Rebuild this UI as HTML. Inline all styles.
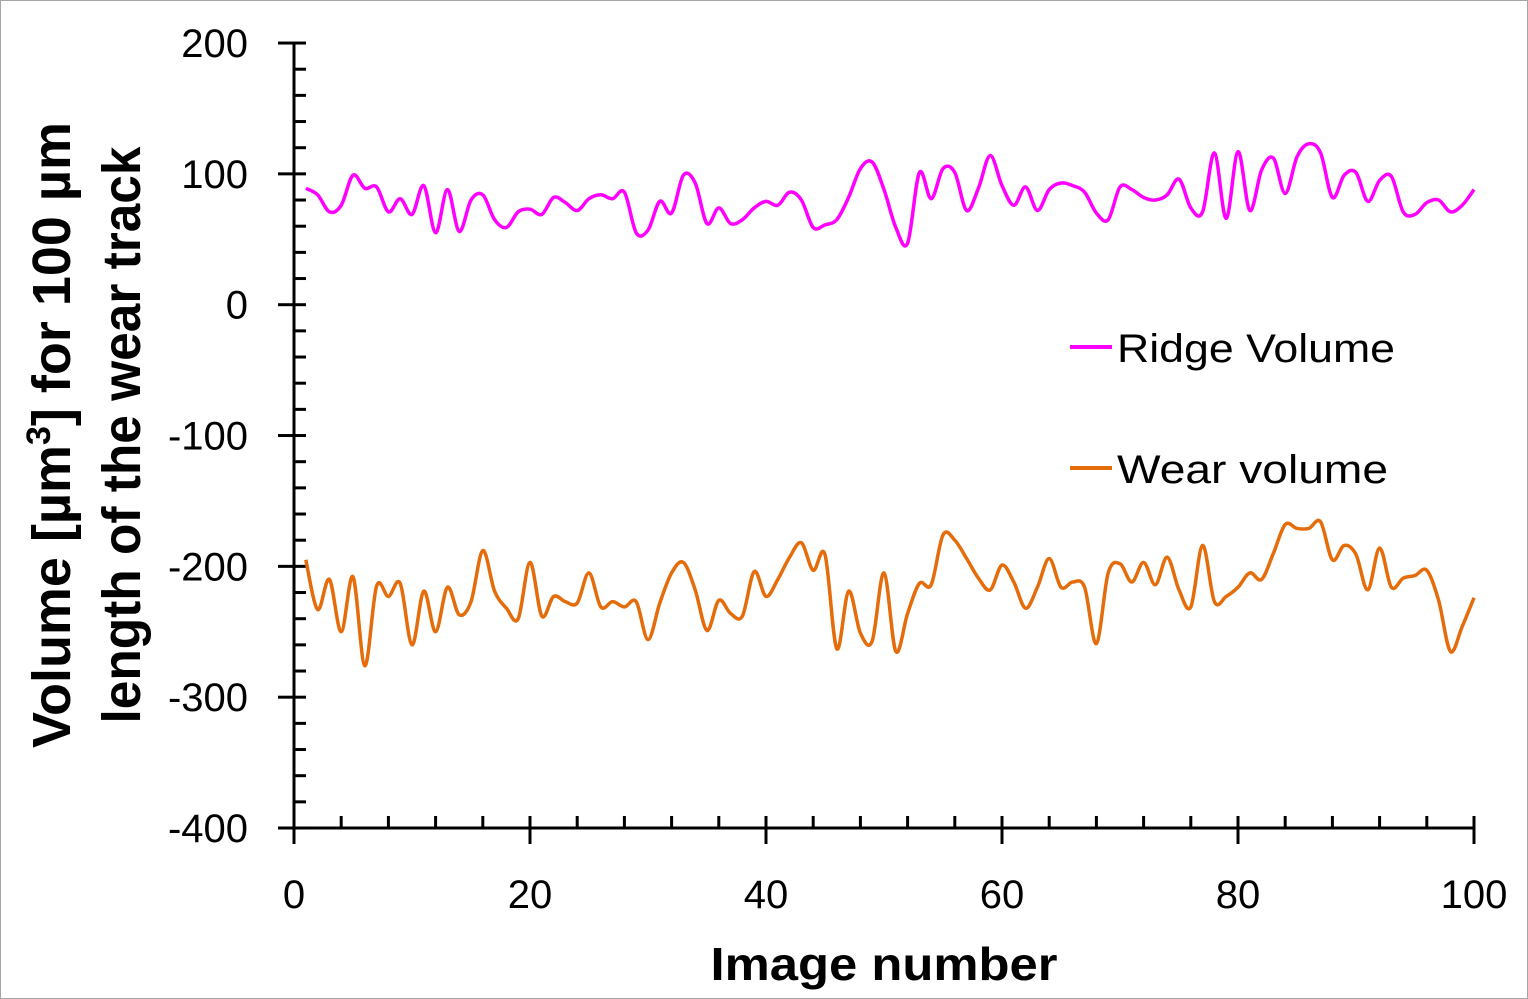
<!DOCTYPE html>
<html><head><meta charset="utf-8"><style>
body{margin:0;background:#fff}
svg{display:block;font-family:"Liberation Sans",sans-serif}
</style></head><body>
<svg width="1528" height="999" viewBox="0 0 1528 999">
<rect x="0.5" y="0.5" width="1527" height="998" fill="#fff" stroke="#a6a6a6"/>
<g id="axes"></g>
<g id="series"></g>
<text x="884" y="980" text-anchor="middle" font-size="46" font-weight="bold" textLength="347" lengthAdjust="spacingAndGlyphs">Image number</text>
<g transform="translate(70,435) rotate(-90)">
<text x="0" y="0" text-anchor="middle" font-size="54" font-weight="bold" textLength="626" lengthAdjust="spacingAndGlyphs">Volume [µm<tspan font-size="34" dy="-20">3</tspan><tspan dy="20">] for 100 µm</tspan></text>
<text x="0" y="70" text-anchor="middle" font-size="54" font-weight="bold" textLength="577" lengthAdjust="spacingAndGlyphs">length of the wear track</text>
</g>
<g>
<line x1="1070" y1="347" x2="1112" y2="347" stroke="#ff00ff" stroke-width="4"/>
<text x="1117" y="362" font-size="40" textLength="278" lengthAdjust="spacingAndGlyphs">Ridge Volume</text>
<line x1="1070" y1="468" x2="1112" y2="468" stroke="#e46c0a" stroke-width="4"/>
<text x="1117" y="483" font-size="40" textLength="271" lengthAdjust="spacingAndGlyphs">Wear volume</text>
</g>
</svg>
<script>
const xTicks=[0,20,40,60,80,100];
const yTicks=[200,100,0,-100,-200,-300,-400];
const ridge=[89,84,71,76,99,89,90,71,81,69,91,55,88,56,80,84,65,59,71,73,69,82,78,72,81,84,81,86,55,57,79,70,99,93,62,74,62,65,74,79,76,86,80,59,61,65,82,104,109,88,59,47,101,81,104,101,72,89,114,91,76,90,72,88,93,91,86,70,65,90,88,82,80,84,96,74,71,116,66,117,72,103,112,85,113,123,116,82,99,101,79,95,98,71,69,78,80,71,76,88];
const wear=[-195,-233,-210,-250,-208,-276,-215,-223,-213,-260,-219,-250,-216,-237,-227,-188,-219,-232,-240,-197,-238,-223,-227,-228,-205,-231,-227,-231,-227,-256,-228,-205,-197,-218,-249,-226,-236,-238,-204,-223,-210,-193,-182,-203,-191,-263,-219,-251,-257,-205,-265,-236,-213,-214,-176,-180,-194,-209,-218,-199,-212,-232,-216,-194,-216,-212,-216,-259,-205,-198,-212,-197,-214,-193,-218,-231,-184,-227,-223,-216,-205,-210,-190,-168,-171,-171,-166,-195,-184,-191,-218,-186,-216,-209,-207,-203,-226,-265,-246,-224];
const X=v=>294+v*11.8;
const Y=v=>304.7-v*1.3083;
const NS='http://www.w3.org/2000/svg';
const axes=document.getElementById('axes');
function mk(tag,attrs,parent){const e=document.createElementNS(NS,tag);for(const k in attrs)e.setAttribute(k,attrs[k]);parent.appendChild(e);return e;}
for(let v=-400;v<=200;v+=20){const t=mk('line',{x1:294,x2:306,y1:Y(v),y2:Y(v),stroke:'#000','stroke-width':3},axes);

}
for(let v=0;v<=100;v+=4){const t=mk('line',{x1:X(v),x2:X(v),y1:828,y2:816,stroke:'#000','stroke-width':3},axes);

}
yTicks.forEach(v=>{const t=mk('line',{x1:278,x2:294,y1:Y(v),y2:Y(v),stroke:'#000','stroke-width':3},axes);


const l=mk('text',{x:248,y:Y(v)+14,'text-anchor':'end','font-size':40},axes);l.textContent=v;

});
xTicks.forEach(v=>{const t=mk('line',{x1:X(v),x2:X(v),y1:828,y2:844,stroke:'#000','stroke-width':3},axes);


const l=mk('text',{x:X(v),y:908,'text-anchor':'middle','font-size':40},axes);l.textContent=v;

});
const ya=mk('line',{x1:294,x2:294,y1:43,y2:844,stroke:'#000','stroke-width':3},axes);


const xa=mk('line',{x1:278,x2:1474,y1:828,y2:828,stroke:'#000','stroke-width':3},axes);


function smooth(arr){const p=arr.map((v,i)=>[X(i+1),Y(v)]);let d='M'+p[0][0]+','+p[0][1];
for(let i=0;i<p.length-1;i++){const p0=p[Math.max(0,i-1)],p1=p[i],p2=p[i+1],p3=p[Math.min(p.length-1,i+2)];
const c1=[p1[0]+(p2[0]-p0[0])/6,p1[1]+(p2[1]-p0[1])/6],c2=[p2[0]-(p3[0]-p1[0])/6,p2[1]-(p3[1]-p1[1])/6];
d+=' C'+c1.join(',')+' '+c2.join(',')+' '+p2.join(',');}return d;}
const s=document.getElementById('series');
const r=mk('path',{d:smooth(ridge),fill:'none',stroke:'#ff00ff','stroke-width':3.5},s);


const w=mk('path',{d:smooth(wear),fill:'none',stroke:'#e46c0a','stroke-width':3.5},s);


</script>
</body></html>
